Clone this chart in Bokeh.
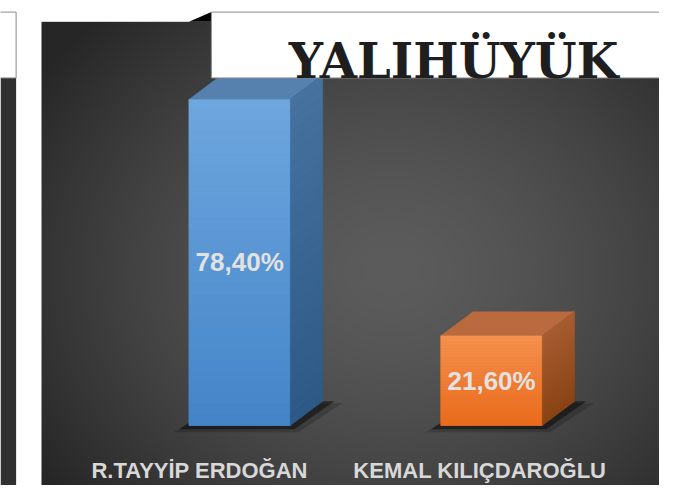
import numpy as np
from bokeh.plotting import figure
from bokeh.models import Range1d, ColumnDataSource
from bokeh.core.properties import value
from bokeh.embed import file_html
from bokeh.resources import INLINE

# ---------------- data ----------------
candidates = ["R.TAYYİP ERDOĞAN", "KEMAL KILIÇDAROĞLU"]
percent = [78.40, 21.60]
pct_labels = ["78,40%", "21,60%"]
title_text = "YALIHÜYÜK"

# ---------------- styles / layout ----------------
front_top = ["#6fa7df", "#f5914f"]
front_bot = ["#4384c8", "#e96a1b"]
front_mid = ["#5894d2", "#f07d35"]
top_colors = ["#5680ad", "#b96b3f"]
side_top = ["#46729f", "#a95d30"]
side_bot = ["#2d5986", "#8b4413"]

W, H = 659, 485          # figure size
RW, RH = 675, 501        # design canvas
K = 337 / 78.4           # canvas pixels per percentage point
BASE = 439               # canvas y of value 0


def vy(sy):
    return (BASE - sy) / K


def mix(c1, c2, t):
    a = [int(c1[i:i + 2], 16) for i in (1, 3, 5)]
    b = [int(c2[i:i + 2], 16) for i in (1, 3, 5)]
    return "#%02x%02x%02x" % tuple(round(a[k] + (b[k] - a[k]) * t) for k in range(3))


BAR_X0, BAR_STEP, BAR_W = 245, 258, 104
DX, DY = 33, 25
dyv = DY / K
LABEL_X = [204, 491]
NSTRIP = 30

p = figure(width=W, height=H, output_backend="svg", toolbar_location=None,
           x_range=Range1d(0, RW), y_range=Range1d(vy(RH), vy(0)),
           x_axis_location=None, y_axis_location=None, min_border=0)
p.grid.visible = False
p.outline_line_color = None
p.background_fill_color = "white"
p.border_fill_color = "white"

# ---------- background panel with radial gradient ----------
px0, px1, py0, py1 = 42, RW, 22, RH
nw, nh = px1 - px0, py1 - py0
xs = px0 + np.arange(nw) + 0.5
ys = py1 - np.arange(nh) - 0.5   # row 0 is at bottom
X, Y = np.meshgrid(xs, ys)
d = np.sqrt(((X - 400) / 370) ** 2 + ((Y - 280) / 310) ** 2)
L = np.clip(92 - 42 * d ** 1.5, 38, 255).astype(np.uint32)
img = ((255 << 24) | (L << 16) | (L << 8) | L).astype(np.uint32)
p.image_rgba(image=[img], x=px0, y=vy(py1), dw=nw, dh=vy(py0) - vy(py1))

# left strip
p.quad(left=0, right=16, top=vy(80), bottom=vy(RH), fill_color="#303030", line_color=None)
p.quad(left=-4, right=16, top=vy(12), bottom=vy(80), fill_color="white", line_color="#8a8a8a", line_width=1)

# ---------- bars ----------
n = len(percent)
cx = [BAR_X0 + i * BAR_STEP for i in range(n)]
xl = [c - BAR_W / 2 for c in cx]
xr = [c + BAR_W / 2 for c in cx]

# shadows
sh_big_x, sh_big_y, sh_x, sh_y = [], [], [], []
for i in range(n):
    sh_big_x.append([xl[i] - 16, xr[i] + 8, xr[i] + DX + 20, xl[i] + DX + 4])
    sh_big_y.append([vy(446), vy(446), dyv + vy(BASE + 2), dyv + vy(BASE + 2)])
    sh_x.append([xl[i] - 10, xr[i] + 4, xr[i] + DX + 12, xl[i] + DX])
    sh_y.append([vy(443), vy(443), dyv, dyv])
p.patches(sh_big_x, sh_big_y, fill_color="black", fill_alpha=0.18, line_color=None)
p.patches(sh_x, sh_y, fill_color="black", fill_alpha=0.45, line_color=None)

# front faces (bars)
src = ColumnDataSource(dict(x=cx, top=percent, color=front_mid))
p.vbar(x="x", top="top", bottom=0, width=BAR_W, fill_color="color", line_color=None, source=src)

# vertical shading of the front and side faces
fl, fr, fb, ft, fc = [], [], [], [], []
sx, sy, sc = [], [], []
for i in range(n):
    for j in range(NSTRIP):
        b = percent[i] * j / NSTRIP
        t = percent[i] * (j + 1) / NSTRIP
        tt = (j + 0.5) / NSTRIP
        fl.append(xl[i]); fr.append(xr[i]); fb.append(b); ft.append(t)
        fc.append(mix(front_bot[i], front_top[i], tt))
        sx.append([xr[i], xr[i] + DX, xr[i] + DX, xr[i]])
        sy.append([b, b + dyv, t + dyv, t])
        sc.append(mix(side_bot[i], side_top[i], tt))
p.quad(left=fl, right=fr, bottom=fb, top=ft, fill_color=fc, line_color=fc, line_width=0.6)

# top faces
top_x = [[xl[i], xr[i], xr[i] + DX, xl[i] + DX] for i in range(n)]
top_y = [[percent[i], percent[i], percent[i] + dyv, percent[i] + dyv] for i in range(n)]
p.patches(top_x, top_y, fill_color=top_colors, line_color=None)

# side faces
p.patches(sx, sy, fill_color=sc, line_color=sc, line_width=0.6)

# value labels
p.text(x=cx, y=[v / 2 for v in percent], text=pct_labels,
       text_font=value("Liberation Sans"), text_font_style="bold", text_font_size="26px",
       text_color="#e2e2e2", text_align="center", text_baseline="middle")

# category labels
p.text(x=LABEL_X, y=[vy(485)] * n, text=candidates,
       text_font=value("Liberation Sans"), text_font_style="bold", text_font_size="22px",
       text_color="#d8d8d8", text_align="center", text_baseline="alphabetic")

# ---------- title box ----------
p.patch([193, 216, 216], [vy(22), vy(12), vy(22)], fill_color="black", line_color=None)
p.quad(left=216, right=RW + 5, top=vy(12), bottom=vy(80), fill_color="white",
       line_color="#8a8a8a", line_width=1)
p.text(x=[464], y=[vy(63)], text=[title_text],
       text_font=value("DejaVu Serif"), text_font_style="bold", text_font_size="48px",
       text_color="#1e1e1e", text_align="center", text_baseline="alphabetic")

open("out.html", "w").write(file_html(p, INLINE))
